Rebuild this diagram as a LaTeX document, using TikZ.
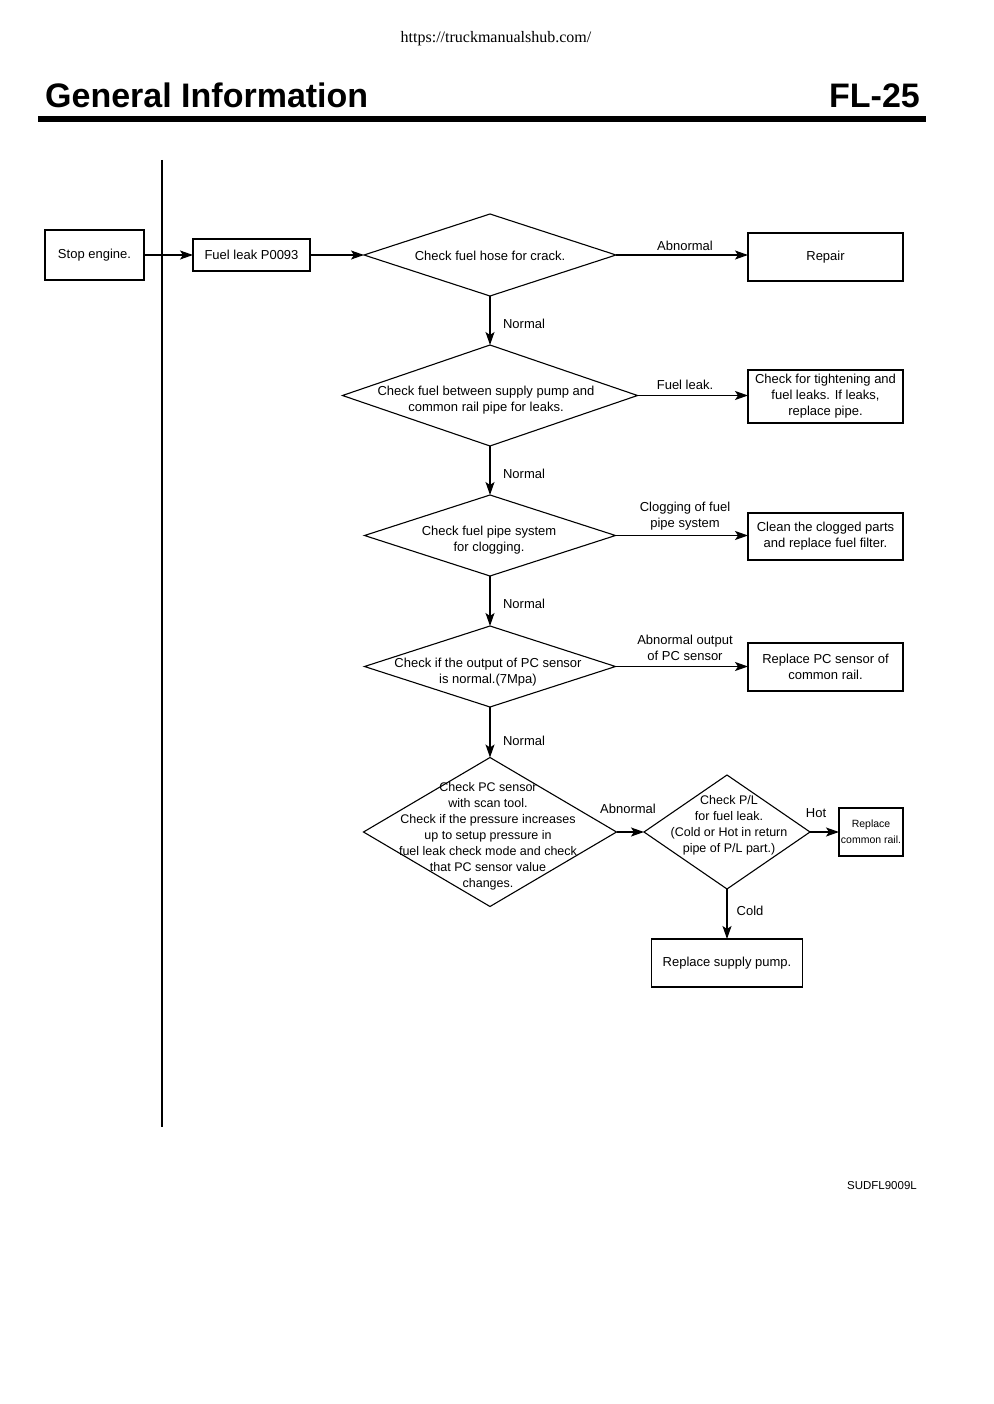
\documentclass[tikz,border=0pt]{standalone}
\usepackage{fontspec}
\setmainfont{Liberation Sans}
\newfontfamily\urlserif{Liberation Serif}
\usetikzlibrary{shapes.geometric,arrows.meta}
\tikzset{
  box/.style={draw,line width=1.1pt,inner sep=0pt,outer sep=0pt,align=center,font=\fontsize{13}{16}\selectfont},
  dia/.style={draw,diamond,line width=1.1pt,inner sep=0pt,outer sep=0pt},
  dtext/.style={align=center,inner sep=0pt,font=\fontsize{13}{16}\selectfont},
  lbl/.style={align=center,inner sep=0pt,font=\fontsize{13}{16}\selectfont},
  arr/.style={line width=1.2pt,-{Stealth[length=13pt,width=9pt,inset=3pt]}}
}
\begin{document}
\begin{tikzpicture}[x=1pt,y=-1pt]
\useasboundingbox (0,0) rectangle (993,1404);
% header
\node[inner sep=0pt,anchor=base,font=\urlserif\fontsize{16}{18}\selectfont] (url) at (496,43) {https://truckmanualshub.com/};
\node[inner sep=0pt,anchor=base west,font=\fontsize{34}{40}\selectfont\bfseries] (title) at (45,108) {General Information};
\node[inner sep=0pt,anchor=base east,font=\fontsize{34}{40}\selectfont\bfseries] (page) at (920,108) {FL-25};
\fill (38,116) rectangle (926,122);
% vertical line
\draw[line width=1.2pt] (162,160) -- (162,1127);
% boxes
\node[box,minimum width=99pt,minimum height=50pt] (stop) at (94.5,255) {Stop engine.};
\node[box,minimum width=117pt,minimum height=32pt] (leak) at (251.5,255) {Fuel leak P0093};
\node[dia,minimum width=252pt,minimum height=82pt] (d1) at (490,255) {};
\node[dtext] at (490,256) {Check fuel hose for crack.};
\node[box,minimum width=155pt,minimum height=48pt] (r1) at (825.5,257) {Repair};
\node[dia,minimum width=295pt,minimum height=101pt] (d2) at (490,395.5) {};
\node[dtext] at (486,400) {Check fuel between supply pump and\\common rail pipe for leaks.};
\node[box,minimum width=155pt,minimum height=53pt] (r2) at (825.5,396.5) {Check for tightening and\\fuel leaks. If leaks,\\replace pipe.};
\node[dia,minimum width=251pt,minimum height=81pt] (d3) at (490,535.5) {};
\node[dtext] at (489,540) {Check fuel pipe system\\for clogging.};
\node[box,minimum width=155pt,minimum height=47pt] (r3) at (825.5,536.5) {Clean the clogged parts\\and replace fuel filter.};
\node[dia,minimum width=251pt,minimum height=81pt] (d4) at (490,666.5) {};
\node[dtext] at (488,672) {Check if the output of PC sensor\\is normal.(7Mpa)};
\node[box,minimum width=155pt,minimum height=48pt] (r4) at (825.5,667) {Replace PC sensor of\\common rail.};
\node[dia,minimum width=253pt,minimum height=149pt] (d5) at (490,832) {};
\node[dtext,font=\fontsize{12.5}{16}\selectfont] at (488,836) {Check PC sensor\\with scan tool.\\Check if the pressure increases\\up to setup pressure in\\fuel leak check mode and check\\that PC sensor value\\changes.};
\node[dia,minimum width=166pt,minimum height=114pt] (d6) at (727,832) {};
\node[dtext,font=\fontsize{12.5}{16}\selectfont] at (729,825) {Check P/L\\for fuel leak.\\(Cold or Hot in return\\pipe of P/L part.)};
\node[box,minimum width=64pt,minimum height=48pt,font=\fontsize{10.5}{16}\selectfont] (r6) at (871,832) {Replace\\common rail.};
\node[box,minimum width=151pt,minimum height=48pt] (r7) at (727,963) {Replace supply pump.};
% connectors
\draw[arr] (stop.east) -- (leak.west);
\draw[arr] (leak.east) -- (d1.west);
\draw[arr] (d1.east) -- (d1.east -| r1.west);
\draw[arr] (d1.south) -- (d2.north);
\draw[arr] (d2.east) -- (d2.east -| r2.west);
\draw[arr] (d2.south) -- (d3.north);
\draw[arr] (d3.east) -- (d3.east -| r3.west);
\draw[arr] (d3.south) -- (d4.north);
\draw[arr] (d4.east) -- (d4.east -| r4.west);
\draw[arr] (d4.south) -- (d5.north);
\draw[arr] (d5.east) -- (d6.west);
\draw[arr] (d6.east) -- (r6.west);
\draw[arr] (d6.south) -- (r7.north);
% labels
\node[lbl] (l1) at (685,246) {Abnormal};
\node[lbl] (l2) at (524,324) {Normal};
\node[lbl] (l3) at (685,385) {Fuel leak.};
\node[lbl] (l4) at (524,474) {Normal};
\node[lbl] (l5) at (685,516) {Clogging of fuel\\pipe system};
\node[lbl] (l6) at (524,604) {Normal};
\node[lbl] (l7) at (685,648) {Abnormal output\\of PC sensor};
\node[lbl] (l8) at (524,741) {Normal};
\node[lbl] (l9) at (628,809) {Abnormal};
\node[lbl] (l10) at (816,813) {Hot};
\node[lbl] (l11) at (750,911) {Cold};
\node[inner sep=0pt,anchor=base east,font=\fontsize{11.5}{13}\selectfont] (code) at (917,1189) {SUDFL9009L};
\end{tikzpicture}
\end{document}
